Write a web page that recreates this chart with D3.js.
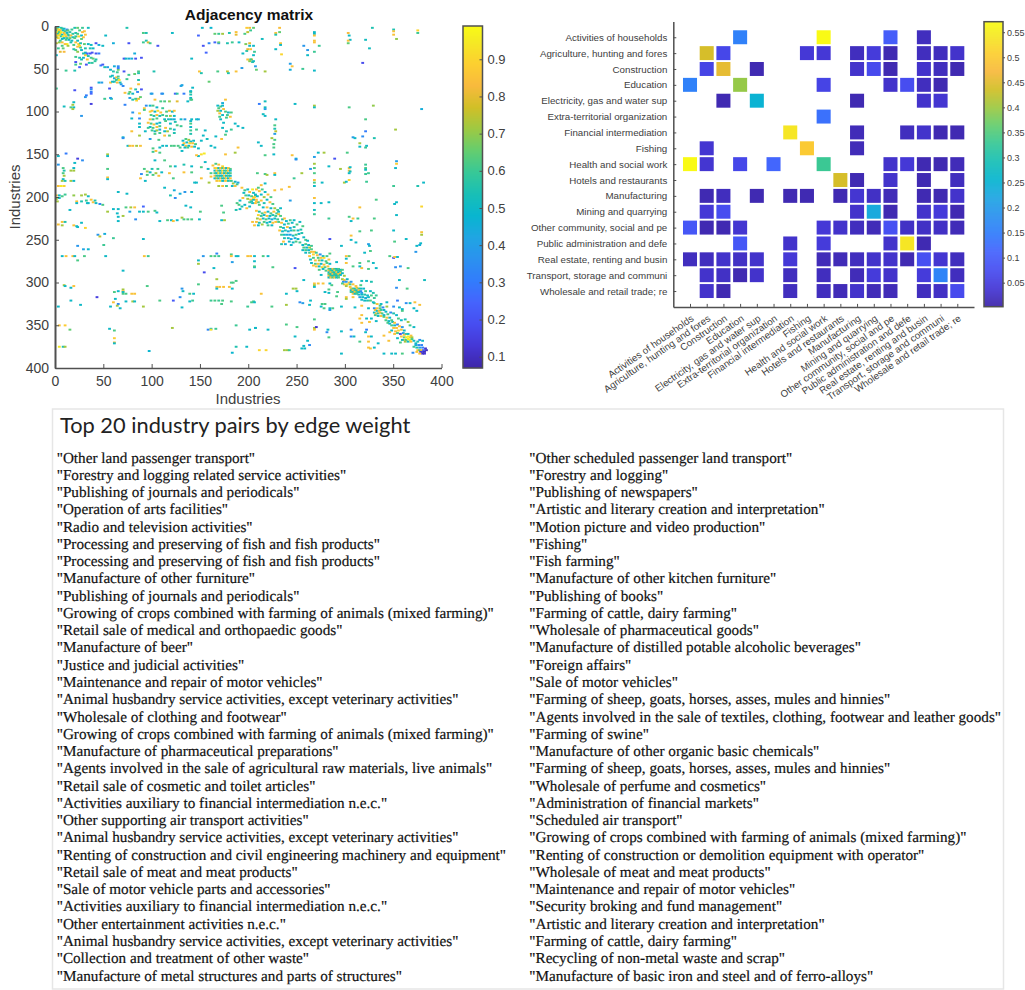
<!DOCTYPE html>
<html>
<head>
<meta charset="utf-8">
<title>Adjacency matrix</title>
<script src="https://cdn.jsdelivr.net/npm/d3@7"></script>
<style>
body { margin: 0; background: #fff; }
svg { display: block; }
text { font-family: "Liberation Sans", Arial, sans-serif; fill: #404040; }
.tick line, .domain { stroke: #505050; }
</style>
</head>
<body>
<div id="chart"></div>
<script>
// adjacency matrix cells: [column industry, row industry, weight]
var cellsTopRows = [[19,1,.55],[22,1,.65],[27,1,.6],[33,1,.52],[73,1,.55],[151,1,.5],[160,1,.48],[197,1,.88],[200,1,.82],[204,1,.65],[231,1,.84],[327,1,.55],[11,4,.35],[349,3,.55],[349,5,.85],[374,4,.9],[27,6,.83],[29,5,.85],[267,6,.5],[20,7,.55],[17,8,.58],[22,8,.62],[30,9,.85],[227,7,.85],[231,6,.65],[227,9,.55],[267,8,.5],[267,10,.85],[302,7,.83],[303,10,.5],[349,9,.85],[374,7,.6],[23,11,.9],[19,13,.65],[90,7,.62],[93,7,.55],[120,7,.5],[164,8,.65],[168,8,.6],[172,8,.72],[179,7,.55],[186,6,.85],[186,9,.8],[195,8,.62],[198,6,.75],[201,4,.6],[51,10,.5],[147,10,.25],[213,14,.52],[304,15,.5],[320,15,.52],[352,14,.7],[267,16,.85],[267,18,.85],[302,16,.85],[302,19,.65],[232,19,.85],[232,21,.5],[272,22,.6],[256,22,.38],[204,22,.5],[227,26,.5],[324,25,.52],[260,27,.38],[267,29,.6],[260,33,.5],[233,32,.9],[204,33,.5],[202,38,.75],[204,40,.5],[242,43,.4],[244,46,.85],[242,50,.45],[255,49,.6],[267,51,.5],[317,42,.18],[216,52,.72],[207,50,.65],[206,46,.4]];
var cellsUpperLeft = [[0,19,.75],[3,18,.7],[6,18,.85],[11,20,.97],[15,18,.55],[18,21,.62],[20,18,.85],[22,16,.52],[23,20,.9],[25,19,.55],[29,20,.65],[33,20,.5],[36,21,.5],[41,19,.2],[44,21,.45],[48,22,.5],[59,19,.45],[75,19,.2],[93,16,.55],[90,18,.6],[95,18,.8],[97,19,.6],[105,22,.2],[152,22,.2],[158,19,.33],[164,18,.25],[168,19,.33],[168,18,.65],[182,18,.6],[177,19,.55],[189,18,.5],[196,20,.68],[200,19,.8],[200,22,.5],[2,25,.6],[7,25,.65],[8,29,.83],[4,29,.8],[18,26,.55],[20,27,.62],[22,29,.7],[26,27,.5],[30,25,.55],[35,25,.55],[38,25,.5],[30,30,.5],[32,31,.25],[35,31,.2],[37,30,.2],[41,31,.2],[44,31,.3],[81,31,.45],[155,30,.25],[193,31,.5],[197,28,.55],[198,26,.8],[201,26,.85],[205,29,.6],[0,33,.5],[20,35,.6],[24,36,.55],[26,38,.52],[28,36,.5],[31,32,.3],[33,34,.55],[36,36,.6],[38,37,.65],[41,38,.55],[32,38,.85],[30,33,.9],[70,37,.2],[72,37,.5],[75,37,.45],[78,37,.45],[82,37,.2],[88,36,.2],[140,37,.5],[198,38,.85],[201,38,.6],[200,40,.7],[203,41,.55],[20,41,.2],[25,43,.65],[31,44,.2],[24,47,.25],[20,44,.6],[34,42,.55],[37,42,.58],[40,40,.58],[46,45,.3],[48,44,.22],[50,47,.55],[53,47,.4],[56,50,.5],[59,52,.55],[63,53,.6],[64,50,.65],[60,46,.45],[64,46,.35],[64,48,.3],[10,51,.6],[19,51,.55],[70,52,.2],[85,54,.55],[85,52,.62],[101,52,.55],[148,52,.85],[150,54,.55],[167,52,.62],[177,52,.75],[178,54,.55],[186,52,.85],[192,48,.4],[56,58,.55],[58,57,.5],[60,60,.45],[62,59,.85],[64,58,.62],[64,61,.6],[60,64,.55],[62,62,.6],[65,62,.95],[63,65,.83],[56,65,.85],[58,64,.5],[66,65,.55],[67,67,.4],[69,69,.33],[44,65,.45],[47,65,.4],[73,61,.6],[85,62,.55],[85,67,.85],[75,56,.6],[81,55,.65],[130,68,.42],[141,71,.5],[158,64,.65],[55,72,.2],[0,72,.6],[19,74,.2],[36,71,.2],[36,73,.35],[36,76,.3],[36,78,.25],[31,80,.3],[77,72,.85],[71,77,.85],[75,78,.6],[79,78,.5],[76,76,.65],[82,73,.55],[88,73,.2],[84,76,.33],[99,78,.4],[110,78,.4],[123,78,.25],[132,78,.3],[125,78,.58],[139,76,.6],[139,79,.55],[139,83,.5],[139,85,.6],[76,83,.4],[79,85,.55],[83,86,.9],[85,84,.8],[87,82,.65],[82,84,.6],[57,84,.55],[50,84,.6],[56,83,.4],[36,90,.15],[30,82,.38],[18,88,.5],[71,91,.32],[8,93,.52],[15,94,.62],[17,91,.72],[18,94,.52],[17,96,.72],[26,104,.38]];
var cellsUpperRight = [[216,87,.52],[210,90,.3],[216,94,.52],[216,96,.4],[247,90,.5],[267,92,.72],[267,94,.52],[303,94,.62],[328,92,.7],[378,96,.45],[214,102,.52],[216,104,.5],[227,108,.5],[320,108,.62],[226,115,.62],[226,119,.55],[227,122,.75],[226,125,.4],[320,122,.3],[351,120,.72],[307,129,.4],[309,130,.5],[317,128,.35],[329,130,.55],[223,130,.72],[226,132,.62],[209,135,.5],[225,137,.62],[212,139,.5],[225,141,.62],[314,136,.72],[314,140,.5],[321,139,.5],[320,141,.6],[216,150,.62],[225,149,.5],[244,150,.85],[248,154,.5],[248,155,.35],[267,152,.4],[271,147,.5],[277,147,.72],[301,147,.62],[288,154,.2],[267,160,.72],[263,166,.38],[267,165,.62],[267,171,.62],[282,163,.5],[294,166,.72],[303,165,.85],[303,168,.85],[303,171,.5],[304,164,.5],[304,169,.52],[320,161,.6],[320,165,.62],[320,167,.5],[320,172,.6],[323,171,.6],[352,157,.4],[352,160,.88],[351,165,.5],[208,171,.62],[216,172,.62],[218,173,.72],[226,171,.85],[226,173,.5],[254,171,.72],[246,177,.6],[267,179,.85],[267,182,.62],[267,186,.5],[275,182,.5],[298,182,.72],[303,179,.9],[300,181,.5],[321,181,.6],[349,186,.6],[374,186,.55],[380,182,.5],[226,191,.85],[212,185,.85],[216,183,.5],[233,190,.85],[241,187,.85],[267,200,.85],[267,206,.5],[274,206,.5],[282,205,.5],[331,202,.62],[352,205,.5],[242,203,.4],[350,207,.5],[378,210,.9],[314,211,.85],[267,214,.52],[267,219,.6],[282,224,.6],[303,222,.62],[305,227,.5],[307,224,.85],[312,224,.6],[329,224,.62],[352,220,.5],[314,239,.62],[305,244,.85],[326,238,.62],[349,238,.5],[378,240,.85],[378,243,.72],[283,248,.2],[305,249,.5],[310,252,.5],[323,254,.4],[324,256,.5],[350,251,.62],[362,248,.5],[377,253,.5],[373,256,.5],[376,255,.45],[295,256,.5],[319,264,.5],[325,262,.62],[372,263,.38],[349,270,.18],[350,269,.85],[353,269,.5],[345,268,.62],[300,268,.85],[303,268,.65],[300,271,.5],[300,276,.85],[290,275,.5],[247,282,.2],[205,268,.5],[205,274,.5],[205,281,.5],[214,268,.62],[219,268,.5],[224,281,.62],[364,282,.62],[356,280,.38],[351,281,.35],[331,282,.5],[316,282,.85],[307,280,.62],[314,276,.62],[314,280,.5],[323,274,.62],[328,276,.5],[323,283,.62],[256,296,.5],[355,296,.5],[381,296,.52],[274,290,.5],[316,297,.52],[321,297,.5],[326,298,.55],[352,305,.35],[363,306,.62],[267,300,.85],[267,302,.72],[271,300,.85],[267,304,.5],[276,300,.85],[283,300,.5],[285,302,.62],[245,306,.72],[248,306,.72],[249,309,.5],[282,307,.62],[282,311,.5],[278,310,.5],[291,310,.62],[290,315,.62],[300,316,.85],[300,318,.72],[307,316,.85],[238,312,.5],[212,312,.85],[204,321,.62],[238,325,.72],[223,327,.62],[252,322,.35],[255,323,.4],[263,320,.5],[262,325,.5],[275,324,.62],[278,324,.62],[274,327,.5],[277,329,.62],[283,329,.5],[286,329,.62],[283,331,.4],[295,327,.5],[309,328,.5],[316,326,.85],[323,329,.5],[329,323,.62],[336,324,.5],[342,322,.5],[342,327,.72],[349,327,.35],[353,320,.3],[362,323,.35],[366,323,.5],[371,322,.85],[376,325,.85],[370,329,.5],[373,332,.5],[355,328,.5],[358,332,.62],[358,330,.5],[267,342,.62],[267,352,.72],[269,351,.12],[267,354,.85],[238,348,.62],[219,354,.5],[206,352,.5],[249,351,.62],[281,354,.5],[280,357,.35],[295,356,.5],[305,354,.35],[321,354,.3],[320,357,.5],[316,337,.85],[314,341,.85],[321,341,.5],[326,341,.5],[324,345,.85],[316,346,.85],[331,344,.5],[247,362,.5],[282,363,.62],[305,362,.35],[308,362,.5],[314,368,.62],[323,362,.85],[326,362,.5],[323,368,.85],[260,367,.5],[262,372,.35],[256,373,.5],[254,376,.5],[257,376,.5],[323,375,.85],[325,376,.85],[329,375,.5],[333,370,.5],[344,367,.85],[217,378,.9],[236,378,.72],[239,378,.72],[241,378,.6],[295,382,.5],[339,382,.5],[347,382,.5],[351,382,.5],[358,382,.62],[369,381,.35],[373,380,.85]];
var cellsMiddle = [[79,100,.38],[86,101,.88],[78,107,.5],[86,107,.33],[86,113,.5],[86,117,.5],[86,127,.72],[78,122,.85],[69,129,.5],[69,130,.35],[74,139,.5],[76,139,.85],[79,139,.85],[83,139,.72],[87,139,.85],[110,139,.5],[114,139,.5],[119,139,.62],[122,139,.62],[126,139,.62],[91,95,.85],[91,97,.62],[93,92,.35],[97,92,.5],[102,85,.85],[108,87,.62],[112,87,.62],[117,87,.7],[125,87,.8],[136,87,.5],[140,85,.62],[139,75,.5],[98,78,.4],[109,78,.35],[129,69,.42],[97,99,.9],[99,98,.85],[102,99,.5],[105,98,.92],[108,100,.85],[114,99,.62],[117,98,.8],[120,99,.5],[122,98,.85],[98,103,.62],[101,104,.55],[104,103,.85],[107,104,.52],[110,103,.6],[114,104,.62],[118,104,.72],[122,104,.5],[112,108,.5],[116,108,.52],[119,108,.5],[122,108,.45],[129,108,.5],[133,108,.4],[140,108,.5],[145,108,.5],[147,108,.45],[97,108,.85],[100,108,.6],[104,107,.62],[98,113,.62],[101,114,.85],[104,113,.5],[97,117,.5],[100,118,.62],[104,117,.85],[99,121,.6],[102,122,.5],[104,121,.72],[102,125,.62],[107,112,.5],[107,116,.62],[107,120,.45],[107,124,.6],[113,118,.85],[112,127,.85],[118,119,.6],[125,115,.62],[122,120,.5],[129,116,.6],[139,110,.5],[139,113,.62],[139,117,.5],[139,121,.6],[139,125,.55],[112,122,.5],[117,127,.62],[122,124,.55],[97,131,.4],[106,132,.62],[145,120,.6],[154,121,.5],[152,127,.5],[156,131,.52],[150,133,.5],[165,128,.5],[175,126,.62],[167,92,.5],[170,93,.62],[172,92,.5],[168,95,.62],[173,96,.85],[167,98,.72],[170,98,.5],[175,99,.62],[178,100,.5],[169,101,.85],[172,103,.5],[177,103,.6],[181,100,.62],[175,85,.85],[172,89,.45],[170,108,.5],[173,112,.5],[172,118,.5],[176,122,.55],[181,120,.6],[188,116,.5],[193,118,.5],[100,142,.62],[103,145,.85],[107,141,.5],[100,146,.6],[107,147,.62],[102,156,.5],[112,156,.62],[118,163,.62],[123,163,.5],[132,161,.55],[140,163,.5],[188,141,.85],[185,147,.72],[175,149,.85],[171,131,.85],[164,141,.5],[160,139,.5],[150,149,.92],[147,151,.5],[145,150,.85],[153,148,.95],[132,170,.85],[140,170,.62],[143,182,.5],[145,182,.5],[158,182,.72],[150,177,.85],[121,177,.62],[117,171,.85],[91,166,.62],[94,169,.72],[97,170,.5],[100,173,.62],[103,171,.72],[106,174,.85],[109,170,.5],[99,166,.55],[105,166,.6],[94,173,.62],[87,177,.85],[88,172,.35],[92,180,.5],[112,188,.5],[122,191,.45],[128,195,.45],[133,193,.38],[140,193,.5],[123,200,.35],[118,197,.55]];
var cellsLowerLeft = [[2,151,.5],[10,148,.3],[22,154,.15],[27,156,.35],[53,149,.72],[53,151,.5],[2,161,.38],[19,159,.5],[7,165,.62],[8,168,.55],[7,171,.62],[8,174,.72],[7,178,.5],[15,168,.72],[18,168,.72],[6,180,.72],[9,180,.55],[15,180,.72],[18,180,.5],[2,186,.85],[5,186,.95],[8,186,.9],[18,165,.5],[53,166,.62],[53,176,.85],[53,178,.5],[64,193,.5],[73,195,.5],[0,197,.85],[3,197,.5],[6,198,.62],[9,196,.6],[0,201,.72],[3,200,.5],[18,197,.7],[26,197,.72],[30,196,.72],[33,198,.5],[21,204,.85],[26,204,.55],[31,203,.6],[36,202,.85],[38,205,.85],[32,206,.5],[40,203,.55],[1,204,.72],[14,214,.5],[21,206,.5],[33,206,.5],[41,206,.5],[45,207,.33],[48,208,.62],[53,216,.72],[59,213,.5],[64,213,.5],[72,211,.62],[77,211,.72],[81,211,.85],[90,210,.25],[63,218,.5],[76,216,.42],[86,216,.5],[90,216,.5],[95,216,.62],[102,215,.62],[104,217,.5],[64,222,.5],[69,221,.72],[64,227,.5],[82,225,.35],[107,227,.5],[115,226,.62],[119,226,.5],[121,227,.85],[125,226,.5],[130,223,.72],[132,225,.62],[136,225,.62],[140,225,.62],[148,225,.5],[134,209,.5],[139,211,.5],[149,216,.62],[171,209,.62],[173,217,.62],[171,226,.5],[174,226,.72],[2,231,.85],[6,228,.85],[9,228,.55],[6,232,.72],[18,232,.85],[21,233,.5],[22,234,.5],[26,229,.5],[30,235,.9],[43,243,.38],[45,245,.75],[50,242,.45],[59,247,.6],[90,248,.5],[49,255,.6],[22,256,.38],[28,260,.42],[33,260,.48],[51,268,.5],[6,268,.5],[10,268,.85],[17,268,.85],[19,268,.5],[29,268,.62],[91,268,.85],[95,268,.6],[22,273,.62],[152,268,.38],[160,268,.62],[164,268,.62],[168,268,.6],[166,265,.33],[181,266,.62],[181,268,.85],[186,268,.5],[188,268,.5],[198,268,.85],[201,268,.85],[147,273,.5],[147,277,.72],[182,275,.4],[163,282,.5],[205,280,.62],[69,285,.5],[153,287,.18],[8,302,.72],[9,303,.5],[15,305,.5],[18,303,.85],[64,309,.5],[69,307,.72],[69,309,.85],[69,310,.5],[60,310,.62],[69,312,.62],[72,312,.62],[78,312,.85],[81,312,.85],[94,303,.62],[130,306,.38],[131,309,.5],[138,312,.62],[142,312,.5],[147,301,.62],[166,295,.72],[166,304,.85],[169,304,.85],[166,306,.5],[173,304,.85],[179,304,.85],[181,299,.62],[183,299,.62],[186,297,.62],[182,306,.5],[42,316,.15],[61,318,.5],[128,316,.35],[15,320,.5],[72,321,.5],[79,321,.72],[81,321,.5],[107,320,.62],[121,320,.22],[138,321,.5],[141,320,.6],[160,320,.6],[164,320,.62],[168,320,.6],[172,320,.62],[181,321,.62],[59,322,.85],[64,324,.33],[63,326,.72],[25,325,.5],[2,327,.5],[56,327,.5],[66,329,.5],[90,327,.72],[130,328,.5],[171,324,.62],[198,327,.6],[202,322,.62],[205,322,.5],[3,349,.85],[9,349,.88],[14,354,.65],[55,353,.5],[60,355,.62],[120,352,.72],[157,354,.33],[160,353,.5],[160,354,.92],[165,353,.6],[186,349,.6],[200,354,.5],[206,352,.5],[60,364,.88],[60,369,.85],[60,370,.5],[3,374,.95],[7,374,.55],[9,374,.72],[96,379,.48],[186,374,.55],[197,374,.5],[182,381,.48],[210,378,.9]];
// dense blocks along the diagonal
var cellsBlockOrigin = [[0,0,.62],[2,0,.5],[5,1,.55],[11,3,.33],[1,2,.7],[3,3,.92],[6,2,.6],[8,2,.5],[0,4,.55],[2,4,.9],[4,4,.85],[7,4,.5],[9,5,.62],[12,4,.65],[1,6,.95],[3,6,.6],[5,6,.95],[8,7,.85],[11,7,.5],[14,6,.58],[0,8,.85],[2,8,.55],[4,8,.92],[6,9,.5],[9,9,.9],[12,9,.6],[1,10,.88],[3,10,.93],[5,11,.58],[7,11,.95],[10,11,.85],[13,10,.55],[8,13,.52],[11,13,.6],[14,13,.68],[6,14,.5],[4,16,.6],[16,3,.6],[15,10,.85],[17,12,.55],[10,15,.62],[2,13,.9],[0,12,.72],[13,15,.5],[16,16,.52],[24,4,.62],[26,10,.5],[28,12,.85],[26,14,.65],[20,11,.58],[25,24,.6],[28,31,.55],[12,22,.72],[9,20,.85],[6,22,.62],[22,23,.85],[24,22,.9]];
var cellsBlockFood = [[131,133,.5],[134,131,.62],[137,132,.72],[139,134,.5],[142,133,.5],[132,136,.85],[135,135,.5],[138,136,.9],[141,136,.85],[144,137,.62],[131,138,.5],[134,139,.85],[137,139,.5],[140,140,.85],[143,140,.5],[136,141,.62],[133,141,.5],[147,142,.5],[128,141,.62],[130,145,.5]];
var cellsBlockRetail = [[162,162,.85],[165,160,.62],[168,161,.85],[172,163,.9],[164,165,.85],[166,165,.92],[168,165,.5],[170,165,.85],[172,165,.62],[174,165,.85],[176,165,.5],[178,165,.85],[180,166,.62],[164,168,.5],[166,168,.85],[168,168,.62],[170,168,.5],[172,168,.9],[174,168,.55],[176,168,.62],[178,168,.85],[180,168,.5],[164,171,.62],[166,171,.5],[168,171,.92],[170,171,.55],[172,171,.85],[174,171,.5],[176,171,.72],[178,171,.5],[180,171,.62],[164,174,.85],[166,174,.55],[168,174,.6],[170,174,.5],[172,174,.55],[174,174,.85],[176,174,.5],[178,174,.62],[180,174,.5],[164,177,.5],[166,177,.72],[168,177,.5],[170,177,.85],[172,177,.5],[174,177,.62],[176,177,.85],[178,177,.5],[180,177,.85],[166,180,.85],[169,180,.9],[172,180,.5],[175,180,.85],[178,180,.55],[181,180,.6],[183,183,.72],[185,181,.5],[188,182,.42],[182,186,.5],[185,186,.85],[187,184,.6],[172,186,.85],[176,186,.6],[168,186,.72],[160,175,.85],[160,171,.62],[157,166,.5],[150,164,.62],[154,158,.5]];
var cellsBlockGroup1 = [[192,188,.85],[195,191,.62],[198,190,.5],[200,193,.85],[203,190,.95],[207,190,.85],[209,188,.62],[204,194,.5],[206,197,.62],[199,197,.5],[202,198,.62],[205,199,.85],[208,198,.5],[198,201,.72],[201,202,.85],[204,202,.5],[207,202,.85],[200,205,.62],[203,206,.5],[206,206,.85],[209,205,.6],[195,208,.5],[192,210,.55],[190,213,.5],[186,214,.55],[197,212,.85],[200,210,.5],[189,208,.62],[206,196,.5],[204,200,.9],[207,204,.85],[202,204,.55],[210,192,.85],[213,190,.62],[216,193,.5],[219,196,.85],[222,199,.62],[212,196,.5],[215,199,.72],[218,202,.5],[221,205,.85],[224,207,.62],[212,203,.85],[215,206,.55],[210,208,.62],[214,211,.5],[218,211,.85],[222,212,.5],[226,212,.72],[229,214,.62],[232,212,.5],[194,194,.5],[196,197,.62],[193,200,.85],[190,203,.5],[187,206,.62]];
var cellsBlockGroup2 = [[207,215,.85],[210,216,.55],[213,218,.62],[216,217,.85],[219,216,.5],[222,218,.62],[225,216,.85],[228,218,.62],[209,220,.9],[212,221,.6],[215,220,.5],[218,221,.85],[221,221,.5],[224,220,.55],[227,221,.6],[230,219,.85],[208,224,.72],[211,225,.85],[214,224,.5],[217,225,.62],[220,224,.5],[223,225,.45],[226,224,.5],[229,225,.6],[207,228,.85],[210,229,.55],[215,228,.62],[218,229,.5],[221,228,.5],[224,229,.85],[227,228,.85],[209,232,.5],[213,231,.72],[219,232,.6],[223,232,.5],[205,232,.85],[203,228,.85],[230,216,.5],[232,221,.62],[234,225,.55],[236,224,.85],[238,227,.5],[242,226,.62],[246,226,.5]];
var cellsBlockGroup3 = [[230,228,.62],[233,229,.85],[236,231,.5],[240,230,.6],[244,229,.5],[232,234,.62],[235,235,.5],[239,234,.85],[242,235,.45],[246,234,.55],[249,231,.62],[231,238,.85],[234,239,.5],[237,238,.55],[240,239,.45],[243,238,.5],[246,238,.62],[250,238,.5],[253,237,.55],[233,243,.6],[236,243,.5],[239,243,.45],[242,243,.4],[245,244,.5],[248,243,.62],[251,242,.5],[236,247,.55],[240,247,.5],[243,248,.42],[247,247,.45],[250,248,.5],[241,251,.5],[245,252,.5],[248,251,.62],[252,228,.5],[255,233,.62],[254,241,.55],[256,246,.5],[258,249,.62],[235,251,.85],[233,254,.55],[237,254,.45],[243,255,.5],[252,252,.6],[260,250,.5]];
var cellsBlockGroup4 = [[255,255,.5],[258,254,.62],[261,255,.5],[264,256,.6],[256,258,.62],[259,258,.5],[262,258,.72],[255,261,.5],[258,261,.62],[261,261,.5],[264,260,.62],[258,264,.5],[262,264,.6],[264,263,.85],[267,263,.85],[269,264,.6],[266,266,.9],[270,267,.85],[273,266,.35],[276,268,.5],[271,270,.62],[274,270,.85],[277,270,.92],[280,268,.62],[283,265,.62],[268,273,.85],[272,273,.72],[275,273,.5],[279,274,.62],[282,272,.85],[264,276,.5],[268,277,.62],[271,277,.85],[274,277,.5],[277,278,.85],[280,276,.62],[283,277,.5],[269,280,.85],[272,280,.5],[275,281,.9],[278,281,.62],[281,280,.85],[262,268,.85],[266,270,.62],[263,272,.5],[266,279,.85],[272,284,.62],[276,283,.5],[279,285,.62]];
var cellsBlockGroup5 = [[282,283,.62],[284,283,.5],[286,283,.85],[288,283,.62],[290,283,.5],[292,283,.62],[294,284,.5],[282,285,.85],[284,285,.62],[286,285,.5],[288,285,.9],[290,285,.6],[292,285,.55],[294,286,.62],[282,287,.5],[284,287,.85],[286,287,.62],[288,287,.5],[290,287,.85],[292,287,.5],[294,288,.85],[282,289,.62],[284,289,.5],[286,289,.85],[288,289,.55],[290,289,.62],[292,289,.85],[294,290,.5],[282,291,.85],[284,291,.6],[286,291,.5],[288,291,.62],[290,291,.5],[292,291,.62],[282,293,.5],[284,293,.85],[286,293,.62],[288,293,.85],[290,293,.5],[292,293,.62],[296,295,.72],[298,296,.85],[301,295,.5],[296,284,.62],[296,288,.5],[298,291,.72]];
var cellsBlockGroup6 = [[297,298,.35],[300,298,.38],[303,299,.85],[305,298,.38],[298,301,.85],[301,301,.9],[304,301,.62],[307,301,.85],[300,303,.72],[304,304,.85],[305,306,.85],[307,306,.62],[309,306,.5],[311,305,.85],[313,306,.62],[315,306,.5],[305,308,.5],[307,308,.85],[309,308,.62],[311,308,.5],[313,308,.85],[315,309,.35],[305,310,.62],[307,310,.5],[309,310,.85],[311,310,.62],[313,310,.5],[316,311,.4],[307,312,.85],[309,312,.5],[311,312,.62],[313,313,.5],[316,313,.5],[319,313,.55],[322,314,.5],[314,316,.4],[317,316,.5],[320,317,.45],[323,316,.5],[326,314,.62],[316,319,.5],[319,320,.5],[322,320,.55],[329,317,.6],[296,300,.62],[310,303,.85],[315,302,.62],[318,306,.5],[320,309,.62],[325,309,.5],[328,311,.55],[331,314,.6],[325,320,.62],[328,322,.5],[332,324,.85],[335,326,.62]];
var cellsBlockGroup7 = [[329,329,.35],[332,329,.85],[335,329,.62],[338,328,.33],[330,331,.85],[332,332,.5],[334,332,.85],[336,331,.6],[339,331,.5],[329,334,.5],[331,335,.85],[333,335,.55],[335,334,.85],[337,335,.62],[330,337,.62],[333,338,.5],[336,338,.85],[339,337,.5],[339,339,.62],[342,340,.85],[345,340,.5],[341,343,.62],[344,344,.5],[347,343,.62],[343,346,.62],[345,347,.5],[348,345,.55],[350,346,.85],[347,349,.62],[350,349,.5],[353,348,.33],[349,352,.85],[352,352,.85],[355,350,.85],[358,351,.38],[347,355,.5],[351,356,.85],[354,355,.9],[357,354,.85],[360,355,.5],[350,359,.85],[353,358,.62],[356,359,.18],[359,358,.4],[345,357,.85],[339,361,.85],[341,333,.5],[343,336,.62],[346,334,.35],[349,335,.55],[352,337,.5],[354,341,.62],[357,343,.5],[361,342,.55],[364,345,.72],[366,349,.6],[370,351,.5]];
var cellsBlockGroup8 = [[360,360,.85],[362,359,.62],[364,359,.5],[367,361,.85],[360,363,.62],[362,363,.95],[364,362,.97],[366,363,.9],[368,363,.72],[360,366,.85],[362,366,.6],[364,365,.95],[366,366,.97],[368,365,.62],[361,368,.72],[364,368,.5],[367,368,.85],[370,367,.5],[372,370,.5],[374,368,.55],[376,366,.35],[379,367,.5],[372,372,.45],[375,372,.35],[378,372,.33],[370,374,.6],[373,375,.55],[376,375,.4],[379,375,.3],[374,378,.85],[376,378,.62],[378,378,.88],[380,378,.25],[382,376,.12],[377,380,.12],[379,380,.15],[381,380,.1],[383,378,.1],[379,382,.1],[381,382,.12],[376,382,.85],[357,362,.85],[358,366,.5],[356,369,.62],[353,364,.5]];
var cellsBlockBooks = [[100,92,.62],[104,94,.5],[110,95,.6],[113,110,.62],[118,113,.5],[123,111,.55],[95,112,.85],[95,118,.6],[92,122,.5],[115,122,.72],[169,105,.62],[176,106,.6],[180,105,.85],[185,113,.5]];

// industry level matrix, same order on both axes
var sectorLabels = ['Activities of households','Agriculture, hunting and fores','Construction','Education','Electricity, gas and water sup','Extra-territorial organization','Financial intermediation','Fishing','Health and social work','Hotels and restaurants','Manufacturing','Mining and quarrying','Other community, social and pe','Public administration and defe','Real estate, renting and busin','Transport, storage and communi','Wholesale and retail trade; re'];
var sectorWeights = [
[0,0,0,.155,0,0,0,0,.57,0,0,0,.1,0,.02,0,0],
[0,.44,.065,0,0,0,0,.04,.04,0,.02,.045,.01,0,.02,.02,.03],
[0,.06,.455,0,.01,0,0,0,0,0,.03,.07,.01,0,.03,.02,.01],
[.155,0,0,.395,0,0,0,0,.06,0,0,0,.03,.075,.02,.01,0],
[0,0,.01,0,.25,0,0,0,0,0,.01,0,0,0,.03,.035,0],
[0,0,0,0,0,0,0,0,.13,0,0,0,0,0,0,0,0],
[0,0,0,0,0,0,.54,0,0,0,.015,0,0,.02,.03,.01,.01],
[0,.035,0,0,0,0,0,.5,0,0,.015,0,0,0,0,0,0],
[.57,.035,0,.065,0,.115,0,0,.33,0,0,0,.03,.04,.01,.01,.015],
[0,0,0,0,0,0,0,0,0,.44,.01,0,.03,0,.01,0,.02],
[0,.01,.02,0,.01,0,.01,.01,0,.01,.035,.025,.015,0,.01,.01,.03],
[0,.04,.075,0,0,0,0,0,0,0,.03,.23,.01,0,.03,.045,.01],
[.09,.01,.01,.035,0,0,0,0,.04,.03,.02,.015,.08,.025,.025,.025,.015],
[0,0,0,.09,0,0,.03,0,.045,0,0,0,.03,.54,.01,0,0],
[.02,.02,.03,.025,.03,0,.04,0,.015,.015,.02,.03,.03,.01,.08,.035,.02],
[0,.03,.025,.01,.03,0,.02,0,.02,0,.015,.045,.03,0,.045,.16,.02],
[0,.03,.01,0,0,0,.02,0,.02,.015,.03,.015,.015,0,.02,.025,.07]
];

var leftTicks = [0,50,100,150,200,250,300,350,400];
var leftBarTicks = [.1,.2,.3,.4,.5,.6,.7,.8,.9];
var rightBarTicks = [.05,.1,.15,.2,.25,.3,.35,.4,.45,.5,.55];

// top 20 list, each pair shown as two columns
var pairSources = ['Other land passenger transport','Forestry and logging related service activities','Publishing of journals and periodicals','Operation of arts facilities','Radio and television activities','Processing and preserving of fish and fish products','Processing and preserving of fish and fish products','Manufacture of other furniture','Publishing of journals and periodicals','Growing of crops combined with farming of animals (mixed farming)','Retail sale of medical and orthopaedic goods','Manufacture of beer','Justice and judicial activities','Maintenance and repair of motor vehicles','Animal husbandry service activities, except veterinary activities','Wholesale of clothing and footwear','Growing of crops combined with farming of animals (mixed farming)','Manufacture of pharmaceutical preparations','Agents involved in the sale of agricultural raw materials, live animals','Retail sale of cosmetic and toilet articles','Activities auxiliary to financial intermediation n.e.c.','Other supporting air transport activities','Animal husbandry service activities, except veterinary activities','Renting of construction and civil engineering machinery and equipment','Retail sale of meat and meat products','Sale of motor vehicle parts and accessories','Activities auxiliary to financial intermediation n.e.c.','Other entertainment activities n.e.c.','Animal husbandry service activities, except veterinary activities','Collection and treatment of other waste','Manufacture of metal structures and parts of structures'];
var pairTargets = ['Other scheduled passenger land transport','Forestry and logging','Publishing of newspapers','Artistic and literary creation and interpretation','Motion picture and video production','Fishing','Fish farming','Manufacture of other kitchen furniture','Publishing of books','Farming of cattle, dairy farming','Wholesale of pharmaceutical goods','Manufacture of distilled potable alcoholic beverages','Foreign affairs','Sale of motor vehicles','Farming of sheep, goats, horses, asses, mules and hinnies','Agents involved in the sale of textiles, clothing, footwear and leather goods','Farming of swine','Manufacture of other organic basic chemicals','Farming of sheep, goats, horses, asses, mules and hinnies','Wholesale of perfume and cosmetics','Administration of financial markets','Scheduled air transport','Growing of crops combined with farming of animals (mixed farming)','Renting of construction or demolition equipment with operator','Wholesale of meat and meat products','Maintenance and repair of motor vehicles','Security broking and fund management','Artistic and literary creation and interpretation','Farming of cattle, dairy farming','Recycling of non-metal waste and scrap','Manufacture of basic iron and steel and of ferro-alloys'];

// parula, entries of the 64 step table and where they sit in it
var parulaSteps = [1,5,9,13,17,21,25,29,33,37,41,45,49,53,57,61,64];
var parulaColors = ['#3e26a8','#4537d5','#474df0','#4563fd','#327cfc','#2b91ef','#20a5e3','#08b5d0','#18bfb6','#37c897','#64cd6f','#9dc943','#d1bf27','#f8ba3d','#fccf30','#f5e924','#f9fb15'];

var adjacencyCells = [].concat(cellsTopRows, cellsUpperLeft, cellsUpperRight, cellsMiddle, cellsLowerLeft,
	cellsBlockOrigin, cellsBlockFood, cellsBlockRetail, cellsBlockGroup1, cellsBlockGroup2, cellsBlockGroup3,
	cellsBlockGroup4, cellsBlockGroup5, cellsBlockGroup6, cellsBlockGroup7, cellsBlockGroup8, cellsBlockBooks);

var svg = d3.select('#chart').append('svg')
	.attr('width', 1025)
	.attr('height', 990);

function parulaScale(lo, hi) {
	return d3.scaleLinear()
		.domain(parulaSteps.map(function(s) { return lo + (hi - lo) * (s - 1) / 63; }))
		.range(parulaColors)
		.clamp(true);
}

function styleAxis(g, width, size) {
	g.select('.domain').attr('stroke-width', width);
	g.selectAll('.tick line').attr('stroke-width', 1);
	g.selectAll('text').style('font-size', size + 'px').attr('fill', null);
}

// colour bar: stack of thin rects plus an axis on the right edge
function colorBar(x0, x1, y0, y1, lo, hi, ticks, size, tickLen, format) {
	var y = d3.scaleLinear().domain([lo, hi]).range([y1, y0]);
	var color = parulaScale(lo, hi);
	svg.append('g').selectAll('rect').data(d3.range(y0, y1, 1))
		.enter().append('rect')
		.attr('x', x0)
		.attr('y', function(d) { return d; })
		.attr('width', x1 - x0)
		.attr('height', 1.2)
		.attr('fill', function(d) { return color(y.invert(d + .5)); });
	svg.append('rect')
		.attr('x', x0).attr('y', y0)
		.attr('width', x1 - x0).attr('height', y1 - y0)
		.attr('fill', 'none').attr('stroke', '#505050').attr('stroke-width', 1.5);
	var axis = d3.axisRight(y).tickValues(ticks).tickSize(tickLen).tickPadding(tickLen > 0 ? 2 : 5).tickFormat(format);
	var g = svg.append('g').attr('transform', 'translate(' + x1 + ',0)').call(axis);
	g.select('.domain').remove();
	styleAxis(g, 1, size);
}

// ---- left panel ----
var xLeft = d3.scaleLinear().domain([0, 400]).range([55, 441.5]);
var yLeft = d3.scaleLinear().domain([0, 400]).range([26, 368]);
var leftColor = parulaScale(.0696, .9895);

// cells come out as short dashes in the original, wider than tall
svg.append('g').selectAll('rect').data(adjacencyCells)
	.enter().append('rect')
	.attr('x', function(d) { return xLeft(d[0]); })
	.attr('y', function(d) { return yLeft(d[1]); })
	.attr('width', xLeft(2.9) - xLeft(0))
	.attr('height', yLeft(2.3) - yLeft(0))
	.attr('fill', function(d) { return leftColor(d[2]); });

var leftXAxis = svg.append('g')
	.attr('transform', 'translate(0,' + yLeft(400) + ')')
	.call(d3.axisBottom(xLeft).tickValues(leftTicks).tickSizeInner(-4).tickSizeOuter(0).tickPadding(8));
styleAxis(leftXAxis, 1.5, 14);
leftXAxis.select('.domain').attr('stroke', '#777');

var leftYAxis = svg.append('g')
	.attr('transform', 'translate(' + xLeft(0) + ',0)')
	.call(d3.axisLeft(yLeft).tickValues(leftTicks).tickSizeInner(-4).tickSizeOuter(0).tickPadding(6));
styleAxis(leftYAxis, 1.5, 14);
leftYAxis.select('.domain').attr('stroke-width', 2).attr('stroke', '#888');

svg.append('text').attr('x', 249).attr('y', 20)
	.attr('text-anchor', 'middle').style('font-size', '15.5px').style('font-weight', 'bold').style('fill', '#111')
	.text('Adjacency matrix');
svg.append('text').attr('x', 248).attr('y', 404)
	.attr('text-anchor', 'middle').style('font-size', '15px')
	.text('Industries');
svg.append('text').attr('transform', 'translate(20,197) rotate(-90)')
	.attr('text-anchor', 'middle').style('font-size', '15px')
	.text('Industries');

colorBar(463, 482.5, 26, 368, .0696, .9895, leftBarTicks, 13, -3, d3.format('.1f'));

// ---- right panel ----
var xRight = d3.scaleLinear().domain([0, 18]).range([673.3, 974]);
var yRight = d3.scaleLinear().domain([0, 18]).range([21.4, 306.9]);
var rightColor = parulaScale(.002, .571);

var sectorCells = [];
sectorWeights.forEach(function(row, r) {
	row.forEach(function(v, c) {
		if (v > 0) sectorCells.push({ col: c + 1, row: r + 1, weight: v });
	});
});

svg.append('g').selectAll('rect').data(sectorCells)
	.enter().append('rect')
	.attr('x', function(d) { return xRight(d.col - .42); })
	.attr('y', function(d) { return yRight(d.row - .44); })
	.attr('width', xRight(.84) - xRight(0))
	.attr('height', yRight(.88) - yRight(0))
	.attr('fill', function(d) { return rightColor(d.weight); });

var sectorTicks = d3.range(1, sectorLabels.length + 1);
var rightYAxis = svg.append('g')
	.attr('transform', 'translate(' + xRight(0) + ',0)')
	.call(d3.axisLeft(yRight).tickValues(sectorTicks).tickSizeInner(-3).tickSizeOuter(0).tickPadding(6)
		.tickFormat(function(i) { return sectorLabels[i - 1]; }));
styleAxis(rightYAxis, 1.5, 9.75);

var rightXAxis = svg.append('g')
	.attr('transform', 'translate(0,' + yRight(18) + ')')
	.call(d3.axisBottom(xRight).tickValues(sectorTicks).tickSizeInner(-3).tickSizeOuter(0)
		.tickFormat(function(i) { return sectorLabels[i - 1]; }));
styleAxis(rightXAxis, 1.5, 9.75);
rightXAxis.selectAll('text')
	.attr('text-anchor', 'end')
	.attr('dy', 0)
	.attr('transform', 'translate(4,13) rotate(-35)')
	.attr('y', 0);

colorBar(984, 1003, 21.7, 306.7, .002, .571, rightBarTicks, 9, 2, function(d) { return d3.format('.2~f')(d); });

// ---- list panel ----
svg.append('rect')
	.attr('x', 52.5).attr('y', 409)
	.attr('width', 951).attr('height', 580)
	.attr('fill', 'none').attr('stroke', '#e6e6e6').attr('stroke-width', 1.5);

svg.append('text').attr('x', 60).attr('y', 433)
	.style('font-family', 'Lato, sans-serif').style('font-size', '21.8px').style('fill', '#222')
	.text('Top 20 industry pairs by edge weight');

var yList = d3.scaleLinear().domain([0, pairSources.length - 1]).range([462.5, 980.5]);

function listColumn(names, x) {
	svg.append('g').selectAll('text').data(names)
		.enter().append('text')
		.attr('x', x)
		.attr('y', function(d, i) { return yList(i); })
		.style('font-family', '"Liberation Serif", serif')
		.style('font-size', '15.2px')
		.style('text-rendering', 'geometricPrecision')
		.style('fill', '#111')
		.style('stroke', '#111')
		.style('stroke-width', .2)
		.text(function(d) { return '"' + d + '"'; });
}
listColumn(pairSources, 56.7);
listColumn(pairTargets, 529.3);
</script>
</body>
</html>
